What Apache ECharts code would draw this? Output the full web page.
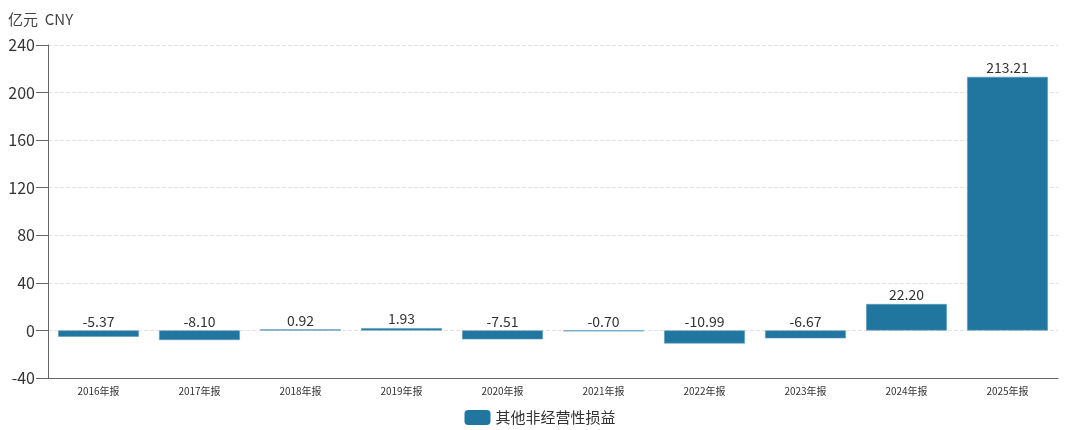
<!DOCTYPE html>
<html><head><meta charset="utf-8">
<script src="https://cdn.jsdelivr.net/npm/echarts@6/dist/echarts.min.js"></script>
<style>html,body{margin:0;padding:0;background:#fff}#c{width:1080px;height:430px}</style>
</head><body><div id="c"></div>
<script>
const categories = ['2016年报','2017年报','2018年报','2019年报','2020年报','2021年报','2022年报','2023年报','2024年报','2025年报'];
const values = [-5.37,-8.10,0.92,1.93,-7.51,-0.70,-10.99,-6.67,22.20,213.21];
const seriesName = '其他非经营性损益';
const yTicks = {min:-40,max:240,interval:40};
const font = '"Noto Sans CJK SC", "Microsoft YaHei", sans-serif';
const chart = echarts.init(document.getElementById('c'));
chart.setOption({
  animation:false,
  textStyle:{fontFamily:font},
  grid:{left:48,right:22,top:45,bottom:52},
  legend:{bottom:0,left:'center',itemWidth:26,itemHeight:15,icon:'roundRect',itemGap:10,
    itemStyle:{borderWidth:0},
    textStyle:{fontSize:15,color:'#333',fontFamily:font},data:[seriesName]},
  xAxis:{type:'category',data:categories,
    axisLine:{onZero:false,lineStyle:{color:'#666'}},
    axisTick:{alignWithLabel:true,length:6,lineStyle:{color:'#555'}},
    axisLabel:{fontSize:10,color:'#333',margin:8}},
  yAxis:{type:'value',min:yTicks.min,max:yTicks.max,interval:yTicks.interval,
    name:'亿元  CNY',nameLocation:'end',nameGap:18,
    nameTextStyle:{fontSize:15,color:'#444',align:'left',padding:[0,0,0,-40]},
    axisLine:{show:true,lineStyle:{color:'#666'}},
    axisTick:{show:true,length:12,lineStyle:{color:'#666'}},
    axisLabel:{fontSize:16,color:'#333',margin:13},
    splitLine:{lineStyle:{type:'dashed',color:'#e3e3e3'}}},
  series:[{name:seriesName,type:'bar',data:values,barWidth:'80%',
    itemStyle:{color:'#21769f',borderColor:'#5a9cc0',borderWidth:0.6},
    label:{show:true,position:'top',fontSize:14,color:'#333',distance:2,
      formatter:p=>p.value.toFixed(2)}}]
});
</script></body></html>
